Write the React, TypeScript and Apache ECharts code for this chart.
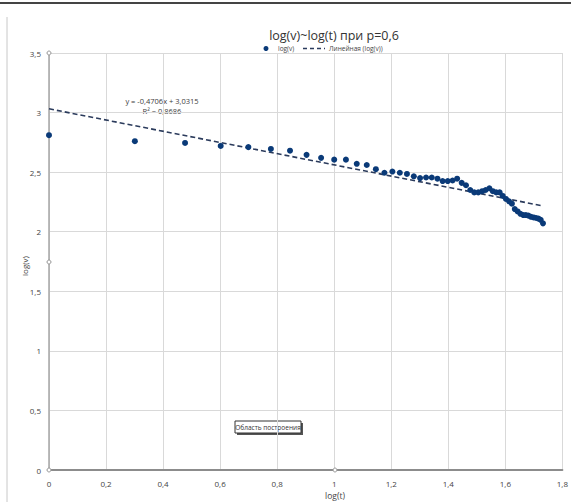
import React, { useEffect, useRef } from "react";
import * as echarts from "echarts";

// log(t) values, t = 1..54
const logT = [
  0, 0.301, 0.477, 0.602, 0.699, 0.778, 0.845, 0.903, 0.954, 1.0,
  1.041, 1.079, 1.114, 1.146, 1.176, 1.204, 1.23, 1.255, 1.279, 1.301,
  1.322, 1.342, 1.362, 1.38, 1.398, 1.415, 1.431, 1.447, 1.462, 1.477,
  1.491, 1.505, 1.519, 1.531, 1.544, 1.556, 1.568, 1.58, 1.591, 1.602,
  1.613, 1.623, 1.633, 1.643, 1.653, 1.663, 1.672, 1.681, 1.69, 1.699,
  1.708, 1.716, 1.724, 1.732,
];
const logV = [
  2.81, 2.76, 2.745, 2.72, 2.71, 2.695, 2.68, 2.645, 2.62, 2.605,
  2.605, 2.57, 2.56, 2.525, 2.495, 2.505, 2.495, 2.485, 2.465, 2.45,
  2.455, 2.455, 2.445, 2.425, 2.425, 2.43, 2.445, 2.41, 2.39, 2.35,
  2.33, 2.33, 2.34, 2.35, 2.365, 2.34, 2.33, 2.33, 2.3, 2.275,
  2.255, 2.235, 2.19, 2.17, 2.15, 2.14, 2.14, 2.135, 2.125, 2.12,
  2.115, 2.11, 2.1, 2.07,
];
// Linear trend from the chart: y = -0.4706x + 3.0315
const trendSlope = -0.4706;
const trendIntercept = 3.0315;
const trendLabel = ["y = -0,4706x + 3,0315", "R² = 0,8686"];
const chartTitle = "log(v)~log(t) при p=0,6";
const seriesName = "log(v)";
const trendName = "Линейная (log(v))";

const FONT = "'Open Sans', 'Liberation Sans', Roboto, sans-serif";
const DOT = "#0a3a78";
const TREND = "#2b3b5c";
const comma = (v: number) => String(Math.round(v * 10) / 10).replace(".", ",");

export default function App() {
  const ref = useRef<HTMLDivElement>(null);
  useEffect(() => {
    if (!ref.current) return;
    const chart = echarts.init(ref.current, null, { renderer: "svg" });
    const xEnd = logT[logT.length - 1];
    const trend = [
      [0, trendIntercept],
      [xEnd, trendIntercept + trendSlope * xEnd],
    ];
    const handle = (cx: number, cy: number) => ({
      type: "circle",
      shape: { cx, cy, r: 2 },
      style: { fill: "#fff", stroke: "#999", lineWidth: 1 },
      z: 10,
    });
    chart.setOption({
      animation: false,
      backgroundColor: "#ffffff",
      legend: { show: false },
      grid: { left: 49, right: 8, top: 53, bottom: 32, containLabel: false },
      xAxis: {
        type: "value",
        min: 0,
        max: 1.8,
        interval: 0.2,
        axisLine: { show: true, onZero: false, lineStyle: { color: "#8c8c8c", width: 2 } },
        axisTick: { show: false },
        axisLabel: { formatter: comma, fontFamily: FONT, fontSize: 8, color: "#444", margin: 9 },
        splitLine: { show: true, lineStyle: { color: "#d9d9d9", width: 1 } },
      },
      yAxis: {
        type: "value",
        min: 0,
        max: 3.5,
        interval: 0.5,
        axisLine: { show: true, lineStyle: { color: "#a6a6a6", width: 1.5 } },
        axisTick: { show: false },
        axisLabel: { formatter: comma, fontFamily: FONT, fontSize: 8, color: "#444", margin: 8 },
        splitLine: { show: true, lineStyle: { color: "#d9d9d9", width: 1 } },
      },
      series: [
        {
          name: seriesName,
          type: "scatter",
          symbol: "circle",
          symbolSize: 6,
          itemStyle: { color: DOT, opacity: 1 },
          data: logT.map((x, i) => [x, logV[i]]),
          z: 3,
        },
        {
          name: trendName,
          type: "line",
          symbol: "none",
          lineStyle: { color: TREND, width: 1.6, type: [5, 3] },
          itemStyle: { color: TREND },
          data: trend,
          z: 2,
        },
      ],
      graphic: [
        { type: "line", shape: { x1: 0, y1: 3, x2: 571, y2: 3 }, style: { stroke: "#444", lineWidth: 2 } },
        { type: "line", shape: { x1: 7, y1: 17, x2: 7, y2: 502 }, style: { stroke: "#c8c8c8", lineWidth: 1 } },
        // title
        {
          type: "text",
          x: 334,
          y: 35,
          style: { text: chartTitle, fontFamily: FONT, fontSize: 12.5, fill: "#333", align: "center", verticalAlign: "middle" },
        },
        // legend
        { type: "circle", shape: { cx: 266, cy: 48.5, r: 2.5 }, style: { fill: DOT } },
        {
          type: "text",
          x: 278,
          y: 48.5,
          style: { text: seriesName, fontFamily: FONT, fontSize: 6.5, fill: "#444", verticalAlign: "middle" },
        },
        {
          type: "line",
          shape: { x1: 303, y1: 48.5, x2: 325, y2: 48.5 },
          style: { stroke: TREND, lineWidth: 1.5, lineDash: [4, 3] },
        },
        {
          type: "text",
          x: 329,
          y: 48.5,
          style: { text: trendName, fontFamily: FONT, fontSize: 6.5, fill: "#444", verticalAlign: "middle" },
        },
        {
          type: "text",
          x: 162,
          y: 101,
          style: { text: trendLabel[0], fontFamily: FONT, fontSize: 7.5, fill: "#404040", align: "center", verticalAlign: "middle" },
        },
        {
          type: "text",
          x: 162,
          y: 111,
          style: { text: trendLabel[1], fontFamily: FONT, fontSize: 7.5, fill: "#404040", align: "center", verticalAlign: "middle" },
        },
        {
          type: "text",
          x: 335,
          y: 495,
          style: { text: "log(t)", fontFamily: FONT, fontSize: 8.5, fill: "#444", align: "center", verticalAlign: "middle" },
        },
        {
          type: "text",
          x: 24,
          y: 266,
          rotation: Math.PI / 2,
          style: { text: "log(v)", fontFamily: FONT, fontSize: 8, fill: "#444", align: "center", verticalAlign: "middle" },
        },
        { type: "rect", shape: { x: 237, y: 423, width: 66, height: 12 }, style: { fill: "#555" } },
        { type: "rect", shape: { x: 235, y: 421, width: 66, height: 12 }, style: { fill: "#fff", stroke: "#333", lineWidth: 1 } },
        {
          type: "text",
          x: 268,
          y: 427,
          style: { text: "Область построения", fontFamily: FONT, fontSize: 6.5, fill: "#333", align: "center", verticalAlign: "middle" },
        },
        handle(49, 53),
        handle(49, 262),
        handle(49, 470),
        handle(335, 470),
      ],
    });
    return () => chart.dispose();
  }, []);
  return <div ref={ref} style={{ width: 571, height: 502, position: "absolute", left: 0, top: 0 }} />;
}
